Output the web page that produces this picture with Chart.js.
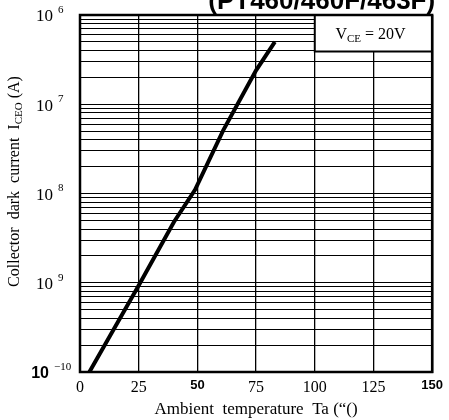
<!DOCTYPE html>
<html>
<head>
<meta charset="utf-8">
<script src="https://cdn.jsdelivr.net/npm/chart.js@4.4.1/dist/chart.umd.min.js"></script>
<style>
  html, body { margin: 0; padding: 0; background: #fff; }
  #wrap { width: 449px; height: 420px; }
</style>
</head>
<body>
<div id="wrap"><canvas id="darkChart" width="449" height="420"></canvas></div>
<script>
// Ambient temperature (deg C) vs collector dark current (A)
const temperatures = [4, 25, 40, 49, 61, 75, 83];
const darkCurrent = [1e-10, 9.3e-10, 4.8e-9, 1.1e-8, 5.1e-8, 2.4e-7, 5.0e-7];

// tick labels as printed on the sheet
const xTicks = [0, 25, 50, 75, 100, 125, 150];
const yDecades = [-10, -9, -8, -7, -6];
const yTickBase = '10';
const yTickExponents = ['\u221210', '9', '8', '7', '6'];

const chartTitle = '(PT460/460F/463F)';
const xTitle = 'Ambient  temperature  Ta (\u201C()';
const conditionText = ['V', 'CE', ' = 20V'];

const serif = '"Liberation Serif", "DejaVu Serif", serif';
const sans = '"Liberation Sans", Arial, sans-serif';

// extra drawing: frame, condition box, titles, power-of-ten labels
const decorPlugin = {
    id: 'decor',
    afterDraw(chart) {
        const ctx = chart.ctx;
        const a = chart.chartArea;
        const xs = chart.scales.x;
        const ys = chart.scales.y;
        ctx.save();

        // condition box in upper right corner
        const bx = xs.getPixelForValue(100);
        const by = ys.getPixelForValue(3.9e-7);
        ctx.fillStyle = '#fff';
        ctx.fillRect(bx, a.top, a.right - bx, by - a.top);
        ctx.strokeStyle = '#000';
        ctx.lineWidth = 2;
        ctx.beginPath();
        ctx.moveTo(bx, a.top);
        ctx.lineTo(bx, by);
        ctx.lineTo(a.right, by);
        ctx.stroke();
        ctx.fillStyle = '#000';
        ctx.textBaseline = 'alphabetic';
        ctx.font = '16px ' + serif;
        let tx = (bx + a.right) / 2 - 38;
        const ty = a.top + 24;
        ctx.fillText(conditionText[0], tx, ty);
        tx += ctx.measureText(conditionText[0]).width;
        ctx.font = '11px ' + serif;
        ctx.fillText(conditionText[1], tx, ty + 3);
        tx += ctx.measureText(conditionText[1]).width;
        ctx.font = '16px ' + serif;
        ctx.fillText(conditionText[2], tx, ty);

        // frame
        ctx.lineWidth = 2.5;
        ctx.strokeRect(a.left, a.top, a.right - a.left, a.bottom - a.top);

        // decade labels: "10" with a raised exponent
        ctx.textAlign = 'right';
        ctx.textBaseline = 'middle';
        yDecades.forEach((e, i) => {
            const yy = ys.getPixelForValue(Math.pow(10, e));
            const bottom = i === 0;
            ctx.font = bottom ? 'bold 16px ' + sans : '17px ' + serif;
            ctx.fillText(yTickBase, bottom ? 49 : 53, yy + 2);
            ctx.textAlign = 'left';
            ctx.font = '11px ' + serif;
            ctx.fillText(yTickExponents[i], bottom ? 54 : 58, yy - 5);
            ctx.textAlign = 'right';
        });

        // title, cut at the top edge like the scan
        ctx.textBaseline = 'alphabetic';
        ctx.font = 'bold 26px ' + sans;
        ctx.fillText(chartTitle, a.right + 3, 9);

        // rotated y title with subscript
        ctx.translate(19, (a.top + a.bottom) / 2 - 12);
        ctx.rotate(-Math.PI / 2);
        ctx.textAlign = 'left';
        const part1 = 'Collector  dark  current  I';
        const part3 = ' (A)';
        ctx.font = '16px ' + serif;
        const w1 = ctx.measureText(part1).width;
        ctx.font = '11px ' + serif;
        const w2 = ctx.measureText('CEO').width;
        ctx.font = '16px ' + serif;
        const w3 = ctx.measureText(part3).width;
        let px = -(w1 + w2 + w3) / 2;
        ctx.fillText(part1, px, 0);
        px += w1;
        ctx.font = '11px ' + serif;
        ctx.fillText('CEO', px, 3);
        px += w2;
        ctx.font = '16px ' + serif;
        ctx.fillText(part3, px, 0);

        ctx.restore();
    }
};

function initializeChart() {
    const ctx = document.getElementById('darkChart').getContext('2d');

    return new Chart(ctx, {
        type: 'line',
        data: {
            datasets: [{
                data: temperatures.map((t, i) => ({ x: t, y: darkCurrent[i] })),
                borderColor: '#000',
                borderWidth: 4,
                pointRadius: 0,
                tension: 0,
                fill: false
            }]
        },
        options: {
            responsive: false,
            animation: false,
            layout: { padding: { left: 0, right: 14, top: 15, bottom: 0 } },
            plugins: {
                legend: { display: false },
                tooltip: { enabled: false }
            },
            scales: {
                x: {
                    type: 'linear',
                    min: 0,
                    max: 150,
                    afterBuildTicks: scale => { scale.ticks = xTicks.map(v => ({ value: v })); },
                    afterFit: scale => { scale.height = 48; },
                    grid: { color: '#000', lineWidth: 1.3, drawTicks: false },
                    border: { color: '#000', width: 2 },
                    ticks: {
                        color: '#000',
                        padding: 6,
                        maxRotation: 0,
                        font: c => (c.tick && (c.tick.value === 50 || c.tick.value === 150))
                            ? { family: sans, size: 13, weight: 'bold' }
                            : { family: serif, size: 16 }
                    },
                    title: {
                        display: true,
                        text: xTitle,
                        color: '#000',
                        font: { family: serif, size: 17 },
                        padding: { top: 2, bottom: 0 }
                    }
                },
                y: {
                    type: 'logarithmic',
                    min: 1e-10,
                    max: 1e-6,
                    afterBuildTicks: scale => {
                        const ticks = [];
                        yDecades.forEach(e => {
                            for (let k = 1; k <= 9; k++) {
                                if (e === -6 && k > 1) break;
                                ticks.push({ value: k * Math.pow(10, e) });
                            }
                        });
                        scale.ticks = ticks;
                    },
                    afterFit: scale => { scale.width = 80; },
                    grid: { color: '#000', lineWidth: 1, drawTicks: false },
                    border: { color: '#000', width: 2 },
                    ticks: { display: false }
                }
            }
        },
        plugins: [decorPlugin]
    });
}

document.addEventListener('DOMContentLoaded', function () {
    initializeChart();
});
</script>
</body>
</html>
